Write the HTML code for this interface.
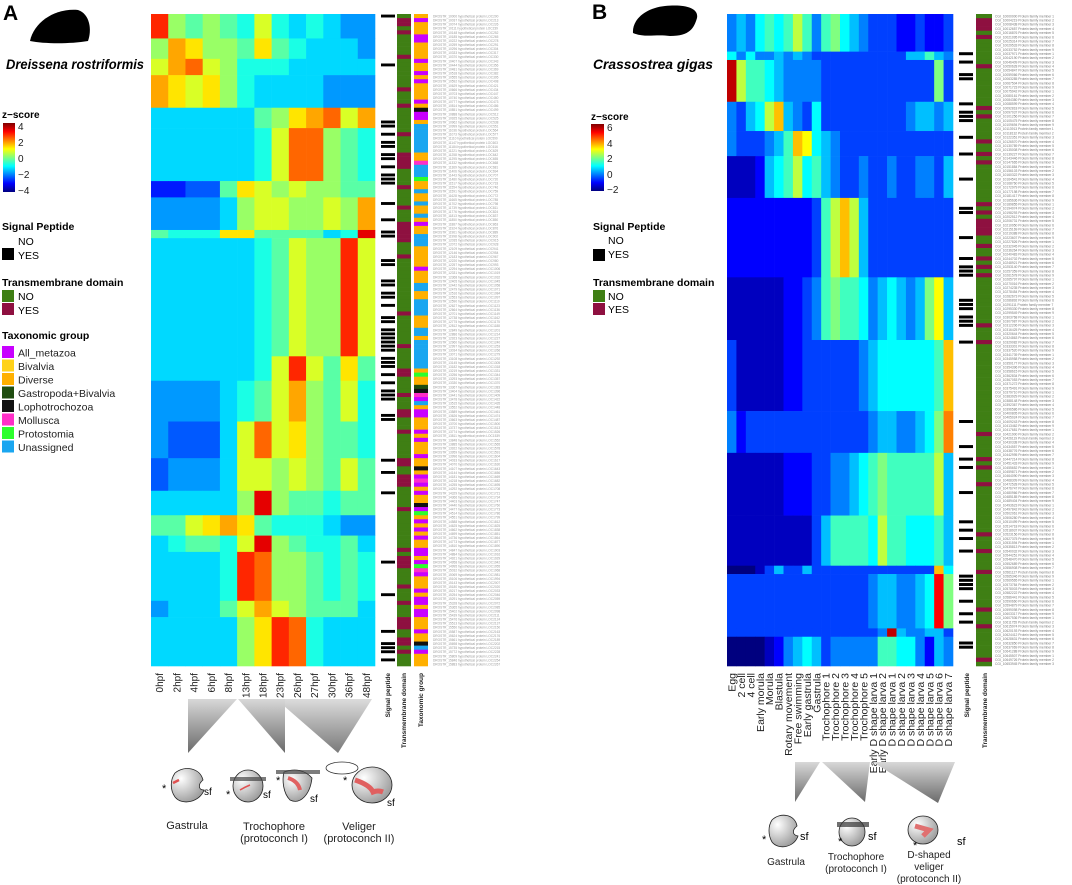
<!DOCTYPE html>
<html><head><meta charset="utf-8">
<style>
html,body{margin:0;padding:0;background:#fff;}
svg{display:block;font-family:"Liberation Sans",sans-serif;}
</style></head>
<body>
<svg id="fig" width="1072" height="885" viewBox="0 0 1072 885">
<defs>
<linearGradient id="jetA" x1="0" y1="1" x2="0" y2="0">
<stop offset="0" stop-color="#00007f"/><stop offset="0.125" stop-color="#0000ff"/><stop offset="0.375" stop-color="#00ffff"/><stop offset="0.625" stop-color="#ffff00"/><stop offset="0.875" stop-color="#ff0000"/><stop offset="1" stop-color="#7f0000"/>
</linearGradient>
<linearGradient id="triG" x1="0" y1="0" x2="0" y2="1"><stop offset="0" stop-color="#d8d8d8"/><stop offset="1" stop-color="#6a6a6a"/></linearGradient>
<radialGradient id="bodyG" cx="0.3" cy="0.3" r="0.9"><stop offset="0" stop-color="#ffffff"/><stop offset="1" stop-color="#8a8a8a"/></radialGradient>
</defs>

<!-- Panel A headers / legend -->
<text x="3" y="20" font-size="21" font-weight="bold">A</text>
<path d="M30,41 C34,22 55,8 78,10 C90,14 92,30 88,41 C70,44 45,44 30,41 Z" fill="#000"/>
<text x="6" y="69" font-size="14" font-weight="bold" font-style="italic" textLength="138" lengthAdjust="spacingAndGlyphs">Dreissena rostriformis</text>
<text x="2" y="118" font-size="10" font-weight="bold">z−score</text>
<rect x="3" y="123" width="12" height="69" fill="url(#jetA)"/>
<g font-size="10" fill="#222">
<text x="18" y="130">4</text><text x="18" y="146">2</text><text x="18" y="162">0</text><text x="18" y="178">−2</text><text x="18" y="194">−4</text></g>
<text x="2" y="230" font-size="10.5" font-weight="bold">Signal Peptide</text>
<text x="18" y="245" font-size="10.5">NO</text>
<rect x="2" y="248" width="12" height="12" fill="#000"/>
<text x="18" y="259" font-size="10.5">YES</text>
<text x="2" y="286" font-size="10.5" font-weight="bold">Transmembrane domain</text>
<rect x="2" y="290" width="12" height="12" fill="#3f7f14"/>
<text x="18" y="300" font-size="10.5">NO</text>
<rect x="2" y="303" width="12" height="12" fill="#8e1040"/>
<text x="18" y="314" font-size="10.5">YES</text>
<text x="2" y="339" font-size="10.5" font-weight="bold">Taxonomic group</text>
<g id="taxLegend"></g>

<!-- Panel B headers / legend -->
<text x="592" y="19" font-size="21" font-weight="bold">B</text>
<path d="M633,33 C632,20 645,8 665,6 C685,4 699,8 697,18 C694,28 690,36 670,36 C655,34 645,38 633,33 Z" fill="#000"/>
<text x="593" y="69" font-size="14" font-weight="bold" font-style="italic" textLength="120" lengthAdjust="spacingAndGlyphs">Crassostrea gigas</text>
<text x="591" y="120" font-size="10" font-weight="bold">z−score</text>
<rect x="591" y="124" width="13" height="67" fill="url(#jetA)"/>
<g font-size="10" fill="#222">
<text x="607" y="131">6</text><text x="607" y="147">4</text><text x="607" y="162">2</text><text x="607" y="178">0</text><text x="607" y="193">−2</text></g>
<text x="593" y="230" font-size="10.5" font-weight="bold">Signal Peptide</text>
<text x="608" y="244" font-size="10.5">NO</text>
<rect x="593" y="249" width="12" height="12" fill="#000"/>
<text x="608" y="258" font-size="10.5">YES</text>
<text x="593" y="286" font-size="10.5" font-weight="bold">Transmembrane domain</text>
<rect x="593" y="290" width="12" height="12" fill="#3f7f14"/>
<text x="608" y="300" font-size="10.5">NO</text>
<rect x="593" y="303" width="12" height="12" fill="#8e1040"/>
<text x="608" y="313" font-size="10.5">YES</text>

<g id="heatA"></g><g id="heatB"></g>

<!-- Stage triangles A -->
<g>
<polygon points="188,699 237,699 188,753" fill="url(#triG)"/>
<polygon points="238,699 285,699 285,753" fill="url(#triG)"/>
<polygon points="276,699 372,699 338,753" fill="url(#triG)" opacity="0.9"/>
</g>
<g>
<path d="M175,773 C185,765 200,768 203,780 C198,784 198,790 204,790 C200,802 182,806 175,797 C170,790 170,780 175,773Z" fill="url(#bodyG)" stroke="#222" stroke-width="0.8"/>
<path d="M173,783 l6,-3" stroke="#e05050" stroke-width="2.5"/>
<text x="162" y="792" font-size="11">*</text><text x="204" y="795" font-size="10">sf</text></g>
<g>
<ellipse cx="248" cy="786" rx="15" ry="16" fill="url(#bodyG)" stroke="#222" stroke-width="0.8"/>
<rect x="230" y="777" width="36" height="4" fill="#444" opacity="0.7"/>
<path d="M240,790 q5,-3 10,-5" stroke="#e05050" stroke-width="1.5" fill="none"/>
<text x="226" y="798" font-size="11">*</text><text x="263" y="798" font-size="10">sf</text>
<path d="M284,772 C295,768 305,770 312,778 C310,795 300,805 290,800 C283,793 282,780 284,772Z" fill="url(#bodyG)" stroke="#222" stroke-width="0.8"/>
<rect x="276" y="770" width="44" height="4" fill="#444" opacity="0.7"/>
<path d="M288,778 q10,3 12,12" stroke="#e06060" stroke-width="4" fill="none"/>
<text x="276" y="784" font-size="11">*</text><text x="310" y="802" font-size="10">sf</text></g>
<g>
<ellipse cx="342" cy="768" rx="16" ry="6" fill="#fff" stroke="#333" stroke-width="0.8"/>
<ellipse cx="372" cy="785" rx="20" ry="18" fill="url(#bodyG)" stroke="#222" stroke-width="0.8"/>
<path d="M355,780 q15,5 18,12 q5,-2 10,0" stroke="#e06060" stroke-width="5" fill="none"/>
<text x="343" y="784" font-size="11">*</text><text x="387" y="806" font-size="10">sf</text></g>
<g font-size="11" fill="#222" text-anchor="middle">
<text x="187" y="829">Gastrula</text>
<text x="274" y="830">Trochophore</text><text x="274" y="842">(protoconch I)</text>
<text x="359" y="830">Veliger</text><text x="359" y="842">(protoconch II)</text></g>

<!-- Stage triangles B -->
<g>
<polygon points="795,762 820,762 795,802" fill="url(#triG)"/>
<polygon points="822,762 870,762 865,802" fill="url(#triG)"/>
<polygon points="873,762 955,762 938,803" fill="url(#triG)"/>
</g>
<g>
<path d="M772,820 C780,812 795,814 797,826 C792,830 792,835 798,836 C794,848 778,850 772,842 C768,835 768,826 772,820Z" fill="url(#bodyG)" stroke="#222" stroke-width="0.8"/>
<text x="762" y="843" font-size="11">*</text><text x="800" y="840" font-size="11">sf</text></g>
<g>
<ellipse cx="852" cy="832" rx="13" ry="14" fill="url(#bodyG)" stroke="#222" stroke-width="0.8"/>
<rect x="837" y="822" width="32" height="5" fill="#333" opacity="0.7"/>
<text x="838" y="845" font-size="11">*</text><text x="868" y="840" font-size="11">sf</text></g>
<g>
<ellipse cx="923" cy="830" rx="15" ry="14" fill="url(#bodyG)" stroke="#222" stroke-width="0.8"/>
<path d="M915,826 l14,4 l-6,6" stroke="#e07070" stroke-width="5" fill="none"/>
<text x="913" y="849" font-size="11">*</text><text x="957" y="845" font-size="11">sf</text></g>
<g font-size="10" fill="#222" text-anchor="middle">
<text x="786" y="865">Gastrula</text>
<text x="856" y="860">Trochophore</text><text x="856" y="872">(protoconch I)</text>
<text x="929" y="858">D-shaped</text><text x="929" y="870">veliger</text><text x="929" y="882">(protoconch II)</text></g>
</svg>

<script>
// ---------- Panel A data ----------
const aCols = ["0hpf","2hpf","4hpf","6hpf","8hpf","13hpf","18hpf","23hpf","26hpf","27hpf","30hpf","36hpf","48hpf"];
const aBlockRows = [6,5,4,8,5,13,4,8,2,29,6,10,9,8,6,5,4,12,4,12];
const aBlockVals = [
[3,0.5,0,0.5,0,-0.5,1,-0.5,-1,-0.5,-1,-1.5,-1.5],
[0.5,2,1.5,0.5,0.5,0,1.5,0,-0.5,-1,-1,-1,-1.5],
[1,2,2.5,1,0.5,-0.5,-0.5,-0.5,-1,-1,-1,-1,-1],
[2,1.5,1,1.5,0.5,-0.5,-1,-1,-1,-1,-1.5,-1.5,-1.5],
[-1,-1,-1,-1,-1,-1,0,0.5,1.5,2,2.5,1,2],
[-1,-1,-1,-1,-1,-1,-0.5,1,2.5,2.5,0.5,0,-0.5],
[-2.5,-2.5,-2,-2,0,1.5,1,0.5,1,0.5,0.5,0,0],
[-1.5,-1.5,-1.5,-1.5,-1,0.5,1,1,0.5,0.5,1,0.5,2],
[0,-0.5,-0.5,-0.5,1.5,1.5,0,0,0,0,-1,-0.5,3.5],
[-1,-1,-1,-1,-1,-1,-0.5,0,1,0.5,0.5,3,1],
[-1,-1,-1,-1,-1,-1,-0.5,1,3,1,0,1.5,0],
[-1.5,-1.5,-1.5,-1.5,-1,-0.5,0,1,2,0.5,0,1,-0.5],
[-1.5,-2,-2,-2,-1,1,2.5,1,1.5,0.5,0,0,-0.5],
[-2,-1.5,-1.5,-1.5,-1,1,1,0.5,1,0.5,0,1,0],
[-1,-1,-1,-1,-1,0.5,3.5,0.5,0,0,-0.5,0,0],
[0,0,1,1.5,2,1.5,0,-0.5,-0.5,-0.5,-1,-1.5,-1.5],
[-1,-0.5,0,0,-0.5,1,3.5,0.5,0,-0.5,-0.5,0,-1],
[-1,-1,-1,-1,-0.5,3,2.5,0.5,0.5,0,-0.5,0,-0.5],
[-1.5,-1,-1,-1,0,1,2,1,0.5,0,0,0,-1],
[-1,-1,-1,-1,-1,0.5,1.5,3,2.5,-0.5,-1,-1,-1]
];
const aSignalRows = [0,12,26,27,29,31,32,34,35,37,39,40,41,46,50,53,54,60,61,65,66,68,69,71,74,75,77,78,79,80,81,82,84,85,86,88,90,92,93,94,98,99,109,112,117,134,142,151,154,155,156,158];
const aTM = "nyynynnnnnynnnnnnnynnnynnnnnnynnnnyyyynnnnynnnnynnnyyyyynnnynnnnnnnnnnnnnynnnnnnnynnnnnyynnnnynnnyynnnynnnnnnyynnyyynnnnnynnnnnnnnnynyyynnnnynnnynnnyyynnyynyn";
const aTax = "dmdddmmddd"+"dmddmdmddd"+"dmdlmmduuu"+"uuuuddouuu"+"pddudduddu"+"dmdduuuddd"+"ddmddduudd"+"uuuuddduud"+"uuuuuuudpd"+"dglomudmmd"+"ddmdmdddmd"+"dldmomdmdd"+"lmpdmdmdmd"+"dmmdmpomdd"+"dmdmmdmmdd"+"dmddlumddd";
const taxNames = ["All_metazoa","Bivalvia","Diverse","Gastropoda+Bivalvia","Lophotrochozoa","Mollusca","Protostomia","Unassigned"];
const taxCodes = ["m","b","d","g","l","o","p","u"];
const taxColors = ["#c800ff","#ffd21a","#ffb000","#1f4d10","#111111","#ff2fc8","#2cff2c","#1aa6f0"];

// ---------- Panel B data ----------
const bCols = ["Egg","2 cell","4 cell","Early morula","Morula","Blastula","Rotary movement","Free swimming","Early gastrula","Gastrula","Trochophore 1","Trochophore 2","Trochophore 3","Trochophore 4","Trochophore 5","Early D shape larva 1","Early D shape larva 2","D shape larva 1","D shape larva 2","D shape larva 3","D shape larva 4","D shape larva 5","D shape larva 6","D shape larva 7"];
const bBlockRows = [9,2,10,7,6,10,19,15,17,10,15,12,2,13,2,7];
const bBlockVals = [
[-0.5,0,-0.5,0.5,1,0.5,1,2,1,-0.5,1,1.5,0.5,0,-0.5,-1,-1,-1,-1.5,-1.5,-1,-1.5,-1.5,-1],
[0.5,-0.5,0.5,-0.5,-0.5,0,-0.5,0,-0.5,-1,-1,-1,-1,-1,-1,-1,-1,-1,-1,0,0,1,0,-0.5],
[5,2,1,1,0.5,0,-0.5,-0.5,-0.5,-0.5,-1,-1,-1,-1,-1,-1,-1,-1,-1,-1,-1,-1,1.5,-1],
[-0.5,-1,0,0.5,2,3,0,-0.5,-1,0.5,-1,-1,-1,-1,-1,-1,-1,-1,-1,-0.5,0,0,-0.5,0],
[-0.5,-1,-1,-1,-0.5,0,1,3,2.5,0.5,0,-0.5,-1,-1,-1,-1,-1,-1,-1,-1,-1,-1,-1,-1],
[-2,-2,-2,-1.5,0,0.5,1,2,0.5,1,0,-0.5,-1,-1,-0.5,-1,-1,-0.5,-1,-1,-0.5,-0.5,-1,0],
[-1.5,-1.5,-1.5,-1.5,-1.5,-1.5,-1.5,-1.5,-1.5,-1,1,2,3,2,0,-1,-1,-1,-1,-1,-1,-1,-1,-1],
[-2,-2,-2,-2,-2,-2,-1.5,-1.5,-1,-0.5,1,1.5,1,1,0.5,-0.5,0,0.5,0,-0.5,0,1.5,2.5,0],
[-1,-2,-2,-2,-2,-2,-1.5,-1.5,-1,-1,-1,-1,-1,-1,-0.5,0,0.5,0.5,0.5,0.5,0.5,0.5,1,3],
[-0.5,-1.5,-1,-1,-1,-1,-1,-1,-1,-1,-1,-1,-1,-1,-1,-0.5,0,0,-0.5,-0.5,0,0.5,1.5,3.5],
[-2,-2,-2,-2,-2,-2,-1.5,-1.5,-1.5,-1,-1,-0.5,-0.5,0,0.5,1,1.5,1,1,1,1,1,2,0],
[-2,-2,-2,-2,-2,-2,-2,-2,-2,-1,0,1,1,1,1,0.5,2,1,1,0.5,0.5,0.5,1,0],
[-2.5,-2.5,-2.5,-2,-1,0,-1,-1,0,-1,-1,-1,-1,-1,-1,-1,-1,-1,-1,-1,-1,-1,3,0.5],
[-1,-1,-1,-1,-1,-1,-1,-1,-1,-1,-1,-1,-1,-1,-1,-0.5,0,0,-0.5,-0.5,0,0.5,4.5,1.5],
[-1,-1,-1,-1,-1,-1,-1,-1,-1,-1,-1,-1,-1,-1,-1,-1,-0.5,5,0,-0.5,-0.5,0,0,-1],
[-2.5,-2.5,-2.5,-2.5,-2,-1.5,-0.5,0,0.5,0,-1,-0.5,-0.5,-0.5,-0.5,-0.5,1,1,0.5,0.5,-0.5,-1.5,0,-0.5]
];
const bSignalRows = [9,11,14,15,21,23,24,25,29,33,39,46,47,53,58,60,61,62,68,69,70,72,73,74,78,97,103,106,108,114,121,123,125,128,134,135,136,137,140,143,145,150,151];
const bTMRows = [1,2,3,5,12,22,24,30,33,35,45,47,49,50,51,52,55,58,60,62,74,78,100,106,108,112,124,128,133,142,146,154];

// ---------- helpers ----------
const NS = "http://www.w3.org/2000/svg";
const jetStops = [[0,[0,0,127]],[0.125,[0,0,255]],[0.375,[0,255,255]],[0.625,[255,255,0]],[0.875,[255,0,0]],[1,[127,0,0]]];
function jet(t){
  t=Math.max(0,Math.min(1,t));
  for(let i=1;i<jetStops.length;i++){
    if(t<=jetStops[i][0]){
      const a=jetStops[i-1],b=jetStops[i],f=(t-a[0])/(b[0]-a[0]);
      const c=a[1].map((v,k)=>Math.round(v+(b[1][k]-v)*f));
      return "rgb("+c.join(",")+")";
    }
  }
  return "rgb(127,0,0)";
}
function mk(tag, attrs, parent){
  const e=document.createElementNS(NS,tag);
  for(const k in attrs) e.setAttribute(k,attrs[k]);
  parent.appendChild(e);
  return e;
}
const A = {x0:151, x1:375, y0:14, y1:666};
const B = {x0:727, x1:953, y0:14, y1:666};
const aTotal = aBlockRows.reduce((s,v)=>s+v,0);
const bTotal = bBlockRows.reduce((s,v)=>s+v,0);
const aRowH = (A.y1-A.y0)/aTotal, bRowH=(B.y1-B.y0)/bTotal;
const aColW = (A.x1-A.x0)/aCols.length, bColW=(B.x1-B.x0)/bCols.length;
const xA = i => A.x0 + i*aColW;
const yA = r => A.y0 + r*aRowH;
const xB = i => B.x0 + i*bColW;
const yB = r => B.y0 + r*bRowH;
const colorA = v => jet((v+3.7)/8);
const colorB = v => jet((v+2.5)/8);

// ---------- heatmap A ----------
const gA=document.getElementById("heatA");
let r0=0;
aBlockRows.forEach((n,bi)=>{
  aBlockVals[bi].forEach((v,ci)=>{
    const c=mk("rect",{x:xA(ci).toFixed(2),y:yA(r0).toFixed(2),width:(aColW+0.3).toFixed(2),height:(n*aRowH+0.3).toFixed(2),fill:colorA(v)},gA);
    
    
  });
  r0+=n;
});
aCols.forEach((lab,i)=>{
  const cx=xA(i)+aColW/2+3.5;
  const t=mk("text",{x:0,y:0,"font-size":"10","text-anchor":"end",fill:"#222",transform:"translate("+cx.toFixed(1)+",673) rotate(-90)"},gA);
  t.textContent=lab;
  
  
});
for(let r=0;r<aTotal;r++){
  const tm=mk("rect",{x:397,y:yA(r).toFixed(2),width:14,height:(aRowH+0.3).toFixed(2),fill:(aTM[r]==="y")?"#8e1040":"#3f7f14"},gA);
  
  
  const code=aTax[r]||"d";
  const tx=mk("rect",{x:414,y:yA(r).toFixed(2),width:14,height:(aRowH+0.3).toFixed(2),fill:taxColors[taxCodes.indexOf(code)]},gA);
  
  
  const gl=mk("text",{x:433,y:(yA(r)+aRowH-0.6).toFixed(2),"font-size":"3.2",fill:"#9a9a9a"},gA);
  gl.textContent="DROSTR_"+(10000+r*37)+" hypothetical protein LOC"+(r*13+200);
  
  
}
aSignalRows.forEach(r=>{
  const s=mk("rect",{x:381,y:(yA(r)+0.6).toFixed(2),width:14,height:(aRowH-1.2).toFixed(2),fill:"#000"},gA);
  
  
});
[["Signal peptide",390],["Transmembrane domain",406],["Taxonomic group",423]].forEach(d=>{
  const t=mk("text",{x:0,y:0,"font-size":"6.5","font-weight":"bold","text-anchor":"end",fill:"#222",transform:"translate("+d[1]+",673) rotate(-90)"},gA);
  t.textContent=d[0];
  
  
});
const gL=document.getElementById("taxLegend");
taxNames.forEach((nm,i)=>{
  const y=346+i*13.5;
  const sw=mk("rect",{x:2,y:y,width:12,height:12,fill:taxColors[i]},gL);
  
  
  const t=mk("text",{x:18,y:y+10.5,"font-size":"10.5",fill:"#222"},gL);
  t.textContent=nm;
  
  
});

// ---------- heatmap B ----------
const gB=document.getElementById("heatB");
r0=0;
bBlockRows.forEach((n,bi)=>{
  bBlockVals[bi].forEach((v,ci)=>{
    const c=mk("rect",{x:xB(ci).toFixed(2),y:yB(r0).toFixed(2),width:(bColW+0.3).toFixed(2),height:(n*bRowH+0.3).toFixed(2),fill:colorB(v)},gB);
    
    
  });
  r0+=n;
});
bCols.forEach((lab,i)=>{
  const cx=xB(i)+bColW/2+3.8;
  const t=mk("text",{x:0,y:0,"font-size":"10.5","text-anchor":"end",fill:"#222",transform:"translate("+cx.toFixed(1)+",673) rotate(-90)"},gB);
  t.textContent=lab;
  
  
});
for(let r=0;r<bTotal;r++){
  const tm=mk("rect",{x:976,y:yB(r).toFixed(2),width:16,height:(bRowH+0.3).toFixed(2),fill:bTMRows.includes(r)?"#8e1040":"#3f7f14"},gB);
  
  
  const gl=mk("text",{x:995,y:(yB(r)+bRowH-0.8).toFixed(2),"font-size":"3.3",fill:"#7a7a7a"},gB);
  gl.textContent="CGI_"+(10000000+r*4219)+"  Protein family member "+(r%9+1);
  
  
}
bSignalRows.forEach(r=>{
  const s=mk("rect",{x:959,y:(yB(r)+0.6).toFixed(2),width:14,height:(bRowH-1.2).toFixed(2),fill:"#000"},gB);
  
  
});
[["Signal peptide",969],["Transmembrane domain",987]].forEach(d=>{
  const t=mk("text",{x:0,y:0,"font-size":"6.5","font-weight":"bold","text-anchor":"end",fill:"#222",transform:"translate("+d[1]+",673) rotate(-90)"},gB);
  t.textContent=d[0];
  
  
});
</script>
</body></html>
